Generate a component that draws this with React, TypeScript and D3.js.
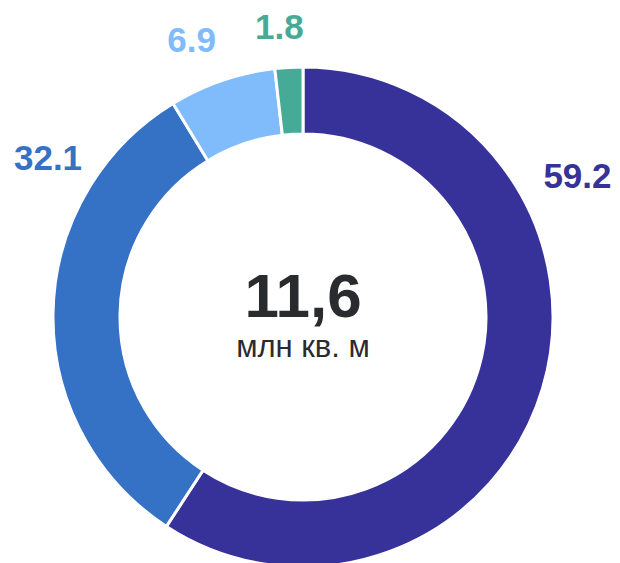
import { useEffect, useRef } from "react";
import { select, pie, arc } from "d3";

const categories = ["A", "B", "C", "D"];
const values = [59.2, 32.1, 6.9, 1.8];
const labels = ["59.2", "32.1", "6.9", "1.8"];
// where along each slice the value label sits (0 = slice start, 1 = slice end)
const labelFrac = [0.294, 0.77, 0.38, 0.28];
// label distance from the centre
const labelDist = [309, 301, 299, 291];
const colors = ["#37319a", "#3571c4", "#80bbfc", "#46ab96"];
const totalValue = "11,6";
const totalUnit = "млн кв. м";

function App() {
  const svgRef = useRef<SVGSVGElement | null>(null);

  useEffect(() => {
    document.body.style.margin = "0";
    const Width = 620;
    const Height = 563;
    const cx = 303;
    const cy = 317;
    const outerR = 250;
    const innerR = 183;

    const svg = select(svgRef.current).attr("width", Width).attr("height", Height);
    svg.selectAll("*").remove();

    const g = svg.append("g").attr("transform", `translate(${cx}, ${cy})`);

    const pieGen = pie<number>().sort(null).value((d) => d);
    const slices = pieGen(values);
    const arcGen = arc<any>().innerRadius(innerR).outerRadius(outerR);

    g.selectAll(".slice")
      .data(slices)
      .join("path")
      .attr("class", "slice")
      .attr("d", arcGen)
      .attr("fill", (d, i) => colors[i])
      .attr("stroke", "#ffffff")
      .attr("stroke-width", 3)
      .attr("stroke-linejoin", "miter");

    const labelAngle = (d: any, i: number) =>
      d.startAngle + (d.endAngle - d.startAngle) * labelFrac[i];

    // value labels outside the ring
    g.selectAll(".valueLabel")
      .data(slices)
      .join("text")
      .attr("class", "valueLabel")
      .attr("x", (d, i) => Math.sin(labelAngle(d, i)) * labelDist[i])
      .attr("y", (d, i) => -Math.cos(labelAngle(d, i)) * labelDist[i])
      .attr("text-anchor", "middle")
      .attr("dominant-baseline", "central")
      .attr("font-family", "'Liberation Sans', Arial, sans-serif")
      .attr("font-weight", 700)
      .attr("font-size", 35)
      .attr("fill", (d, i) => colors[i])
      .text((d, i) => labels[i]);

    // center total
    g.append("text")
      .attr("text-anchor", "middle")
      .attr("x", 0)
      .attr("y", 0)
      .attr("font-family", "'Liberation Sans', Arial, sans-serif")
      .attr("font-weight", 700)
      .attr("font-size", 62)
      .attr("fill", "#2a2b2e")
      .text(totalValue);

    g.append("text")
      .attr("text-anchor", "middle")
      .attr("x", 0)
      .attr("y", 40)
      .attr("font-family", "'Liberation Sans', Arial, sans-serif")
      .attr("font-size", 31)
      .attr("fill", "#2a2b2e")
      .text(totalUnit);
  }, []);

  return <svg ref={svgRef} data-categories={categories.join(",")}></svg>;
}

export default App;
